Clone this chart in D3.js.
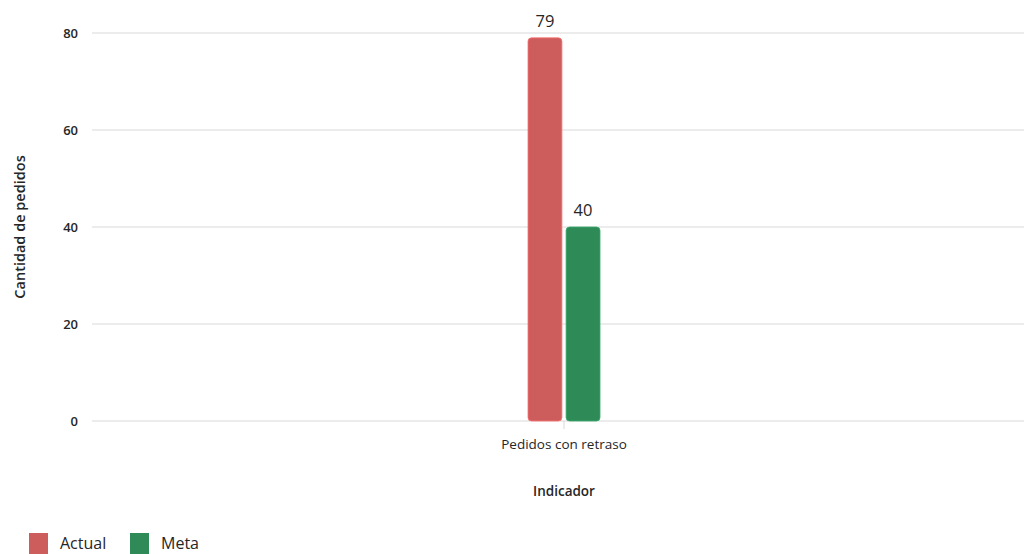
<!DOCTYPE html>
<html>
<head>
<meta charset="utf-8">
<script src="https://cdn.jsdelivr.net/npm/d3@7"></script>
<style>
  html, body { margin: 0; padding: 0; background: #fff; }
  svg { display: block; font-family: "Open Sans", "Noto Sans", sans-serif; }
</style>
</head>
<body>
<svg id="chart" width="1024" height="554"></svg>
<script>
// Chart data
const categories = ["Pedidos con retraso"];
const seriesNames = ["Actual", "Meta"];
const actualValues = [79];
const metaValues = [40];
const yTicks = [0, 20, 40, 60, 80];
const seriesColors = ["#CD5C5C", "#2E8B57"];

const svg = d3.select("#chart");
const margin = { left: 92, right: -12, top: 33, bottom: 133 };
const W = 1024, H = 554;
const textColor = "#262626";

const x = d3.scaleBand().domain(categories).range([margin.left, W - margin.right]);
const y = d3.scaleLinear().domain([0, 80]).range([H - margin.bottom, margin.top]);
const xs = d3.scaleBand().domain(seriesNames).range([-36, 36]).paddingInner(0.11);

// gridlines
svg.append("g").selectAll("line").data(yTicks).join("line")
  .attr("x1", margin.left).attr("x2", W)
  .attr("y1", d => y(d)).attr("y2", d => y(d))
  .attr("stroke", "#d9d9d9").attr("stroke-width", 1.2);

// y tick labels
svg.append("g").selectAll("text").data(yTicks).join("text")
  .attr("x", 78).attr("y", d => y(d)).attr("dy", "0.35em")
  .attr("text-anchor", "end").attr("font-size", 13).attr("font-weight", 600).attr("fill", textColor)
  .text(d => d);

// category tick mark and label
const cx = x(categories[0]) + x.bandwidth() / 2;
svg.append("line").attr("x1", cx).attr("x2", cx)
  .attr("y1", y(0)).attr("y2", y(0) + 8).attr("stroke", "#d9d9d9");
svg.append("text").attr("x", cx).attr("y", 449)
  .attr("text-anchor", "middle").attr("font-size", 13.5).attr("fill", textColor)
  .text(categories[0]);

// bars
const rows = categories.map((c, i) => ({ c, vals: [actualValues[i], metaValues[i]] }));
rows.forEach(r => {
  const cc = x(r.c) + x.bandwidth() / 2;
  r.vals.forEach((v, j) => {
    const bx = cc + xs(seriesNames[j]);
    svg.append("rect")
      .attr("x", bx).attr("y", y(v))
      .attr("width", xs.bandwidth()).attr("height", y(0) - y(v))
      .attr("rx", 3.5).attr("ry", 3.5)
      .attr("fill", seriesColors[j])
      .attr("stroke", d3.color(seriesColors[j]).brighter(0.6)).attr("stroke-width", 0.8);
    svg.append("text")
      .attr("x", bx + xs.bandwidth() / 2).attr("y", y(v) - 11)
      .attr("text-anchor", "middle").attr("font-size", 16.5).attr("fill", textColor)
      .text(v);
  });
});

// axis titles
svg.append("text").attr("x", cx).attr("y", 496)
  .attr("text-anchor", "middle").attr("font-size", 13.5).attr("font-weight", 600).attr("fill", textColor)
  .text("Indicador");
svg.append("text")
  .attr("transform", `translate(25,${(y(0) + y(80)) / 2}) rotate(-90)`)
  .attr("text-anchor", "middle").attr("font-size", 14.5).attr("font-weight", 600).attr("fill", textColor)
  .text("Cantidad de pedidos");

// legend
const legend = svg.append("g");
const legendX = [29, 130];
seriesNames.forEach((s, i) => {
  legend.append("rect").attr("x", legendX[i]).attr("y", 533)
    .attr("width", 19).attr("height", 21).attr("fill", seriesColors[i]);
  legend.append("text").attr("x", legendX[i] + 31).attr("y", 549)
    .attr("font-size", 16).attr("fill", textColor).text(s);
});
</script>
</body>
</html>
